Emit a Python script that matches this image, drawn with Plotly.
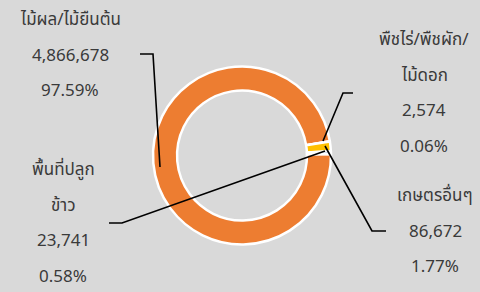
import plotly.graph_objects as go

# Data
categories = ["ไม้ผล/ไม้ยืนต้น", "พืชไร่/พืชผัก/ไม้ดอก", "เกษตรอื่นๆ", "พื้นที่ปลูกข้าว"]
label_lines = [["ไม้ผล/ไม้ยืนต้น"], ["พืชไร่/พืชผัก/", "ไม้ดอก"], ["เกษตรอื่นๆ"], ["พื้นที่ปลูก", "ข้าว"]]
values = [4866678, 2574, 86672, 23741]
percents = ["97.59%", "0.06%", "1.77%", "0.58%"]
colors = ["#ED7D31", "#A5A5A5", "#FFC000", "#4472C4"]

W, H = 480, 292
cx, cy, R = 242, 155.5, 89

fig = go.Figure(go.Pie(
    labels=categories, values=values, sort=False, direction="clockwise",
    rotation=89, hole=0.73, textinfo="none", hoverinfo="label+value+percent",
    marker=dict(colors=colors, line=dict(color="white", width=2.5)),
    domain=dict(x=[(cx - R) / W, (cx + R) / W], y=[(H - cy - R) / H, (H - cy + R) / H]),
    showlegend=False,
))

# label block centers (pixels) and line spacing
label_pos = [(70, 20), (424, 40), (435, 196), (63, 170)]
step = 35.5
font = dict(family="Noto Sans Thai, Noto Sans, Lato, sans-serif", size=17, color="#3a3a3a")
for i, (x, y0) in enumerate(label_pos):
    lines = label_lines[i] + [f"{values[i]:,}", percents[i]]
    for j, t in enumerate(lines):
        fig.add_annotation(x=x / W, y=1 - (y0 + j * step) / H, xref="paper", yref="paper",
                           text=t, showarrow=False, font=font, xanchor="center", yanchor="middle")

# leader lines (pixel paths)
leaders = [
    [(140, 54), (153, 54), (160, 167)],
    [(353, 93), (343, 93), (323, 141)],
    [(386, 231), (372, 231), (325, 146)],
    [(109, 223), (122, 223), (325, 151)],
]
for pts in leaders:
    path = "M " + " L ".join(f"{px / W:.5f},{1 - py / H:.5f}" for px, py in pts)
    fig.add_shape(type="path", path=path, xref="paper", yref="paper",
                  line=dict(color="black", width=1.6))

fig.update_layout(width=W, height=H, margin=dict(l=0, r=0, t=0, b=0),
                  paper_bgcolor="#D9D9D9", plot_bgcolor="#D9D9D9")
fig.write_html("out.html", config={"displayModeBar": False},
               post_script="document.body.style.margin='0';document.body.style.overflow='hidden';")
